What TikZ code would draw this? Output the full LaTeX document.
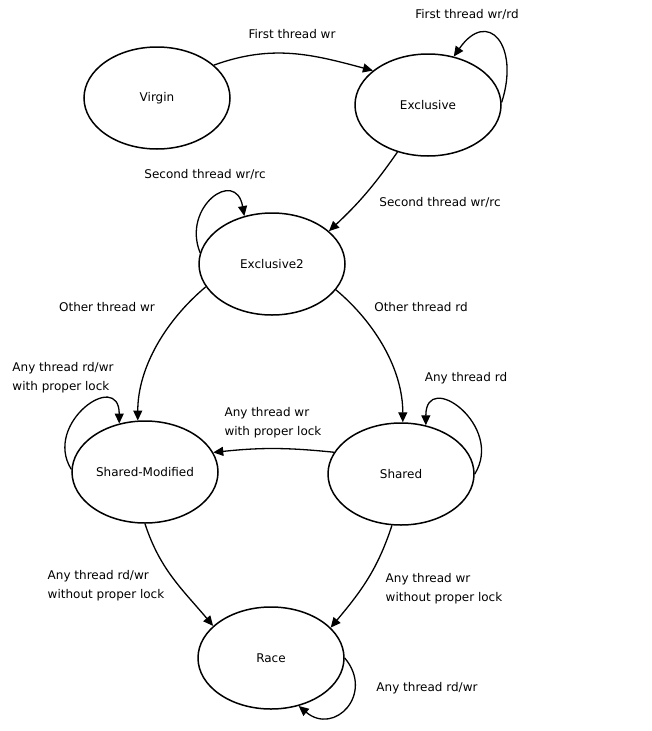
\documentclass[tikz,border=0pt]{standalone}
\usepackage{fontspec}
\setmainfont{DejaVu Sans}
\usetikzlibrary{arrows.meta,shapes.geometric}

\begin{document}
\begin{tikzpicture}[
    x=1pt, y=1pt,
    font=\fontsize{12}{19}\selectfont,
    state/.style={draw=black, line width=1.5pt, ellipse, inner sep=0pt,
                  minimum width=146pt, minimum height=102pt},
    lbl/.style={align=left, inner sep=0pt},
    arrow/.style={-{Triangle[length=10pt,width=9pt]}, line width=1.3pt}
]
    \useasboundingbox (0,0) rectangle (651,-731);

    % states
    \node[state] (virgin) at (157,-98)  {Virgin};
    \node[state] (excl)   at (428,-105) {Exclusive};
    \node[state] (excl2)  at (272,-264) {Exclusive2};
    \node[state] (shmod)  at (145,-472) {Shared-Modified};
    \node[state] (shared) at (401,-474) {Shared};
    \node[state] (race)   at (271,-658) {Race};

    % labels
    \node[lbl] (lfirst)   at (292,-34)  {First thread wr};
    \node[lbl] (lfirstrd) at (467,-14)  {First thread wr/rd};
    \node[lbl] (lsecloop) at (205,-174) {Second thread wr/rc};
    \node[lbl] (lsec)     at (440,-202) {Second thread wr/rc};
    \node[lbl] (lotherwr) at (107,-307) {Other thread wr};
    \node[lbl] (lotherrd) at (421,-307) {Other thread rd};
    \node[lbl] (lsmloop)  at (63,-378)  {Any thread rd/wr\\with proper lock};
    \node[lbl] (lshloop)  at (466,-378) {Any thread rd};
    \node[lbl] (lwrlock)  at (273,-423) {Any thread wr\\with proper lock};
    \node[lbl] (lsmrace)  at (106,-586) {Any thread rd/wr\\without proper lock};
    \node[lbl] (lshrace)  at (444,-589) {Any thread wr\\without proper lock};
    \node[lbl] (lrace)    at (427,-688) {Any thread rd/wr};

    % transitions
    \draw[arrow] (virgin.30) to[out=20, in=165] (excl.148);
    \draw[arrow] (excl.2) to[out=72, in=55, looseness=2.3] (excl.62);
    \draw[arrow] (excl.237) to[bend left=6] (excl2.30);
    \draw[arrow] (excl2.171) to[out=112, in=100, looseness=2.2] (excl2.120);
    \draw[arrow] (excl2.199) to[out=220, in=90, looseness=0.9] (shmod.98);
    \draw[arrow] (excl2.338) to[out=-40, in=90, looseness=0.9] (shared.88);
    \draw[arrow] (shmod.178) to[out=122, in=90, looseness=2.1] (shmod.118);
    \draw[arrow] (shared.0) to[out=58, in=90, looseness=2.1] (shared.63);
    \draw[arrow] (shared.162) to[bend right=6] (shmod.16);
    \draw[arrow] (shmod.270) to[out=-72, in=130] (race.151);
    \draw[arrow] (shared.260) to[out=-108, in=50] (race.27);
    \draw[arrow] (race.0) to[out=-50, in=-40, looseness=1.8] (race.300);
\end{tikzpicture}
\end{document}
